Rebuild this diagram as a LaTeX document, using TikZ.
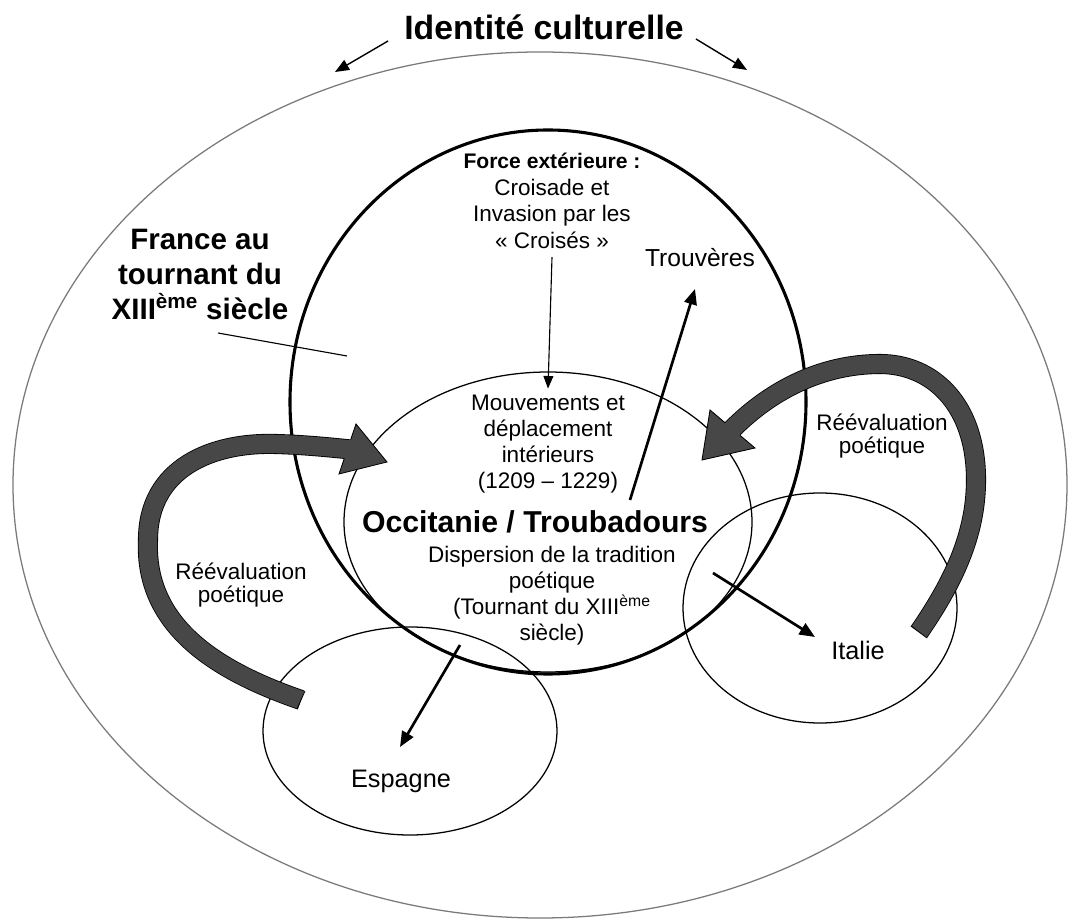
\documentclass[tikz,border=0pt]{standalone}
\usepackage{fontspec}
\setmainfont{Liberation Sans}
\usetikzlibrary{arrows.meta}
\definecolor{bandgray}{HTML}{474747}
\definecolor{ringgray}{HTML}{7A7A7A}
\tikzset{
  txt/.style={align=center, inner sep=0pt},
  arr/.style={-{Triangle[length=10pt,width=8pt]}, line width=1pt},
  thinarr/.style={-{Triangle[length=9pt,width=7pt]}, line width=0.8pt},
  thickarr/.style={-{Triangle[length=11pt,width=9pt]}, line width=1.9pt},
  band/.style={draw=black, line width=0.6pt, double=bandgray, double distance=0.46cm},
  bandhead/.style={draw=black, line width=0.6pt, line join=miter},
}

\begin{document}
\begin{tikzpicture}
\useasboundingbox (0,0) rectangle (26.7,23);
% the rings
\draw[ringgray, line width=0.9pt] (13.5,10.875) ellipse (13.175 and 10.825);
\draw[line width=2.2pt] (13.7,12.95) ellipse (6.45 and 6.8);
\draw[line width=0.9pt] (13.7,9.95) ellipse (5.1 and 3.75);
\draw[line width=0.9pt] (10.25,4.725) ellipse (3.675 and 2.6);
\draw[line width=0.9pt] (20.5,7.8) ellipse (3.425 and 2.875);

% left bent arrow
\draw[band] (7.525,5.5) .. controls (5.5,6.2) and (3.6,7.3) .. (3.7,9.5)
  .. controls (3.7,11.3) and (5.3,11.95) .. (6.9,11.9)
  .. controls (7.6,11.88) and (8.2,11.82) .. (8.79,11.76);
\draw[line width=0.6pt] (7.425,5.275) -- (7.625,5.725);
\fill[bandgray] (8.9,12.4) -- (9.675,11.45) -- (8.475,11.15) -- cycle;
\draw[bandhead] (8.768,12.012) -- (8.9,12.4) -- (9.675,11.45) -- (8.475,11.15) -- (8.607,11.538);

% right bent arrow
\draw[band] (22.975,7.2) .. controls (23.8,8.4) and (24.4,9.6) .. (24.4,11.0)
  .. controls (24.4,12.9) and (23.3,13.9) .. (22.0,13.9)
  .. controls (20.5,13.9) and (19.2,13.2) .. (18.24,12.205);
\draw[line width=0.6pt] (23.175,7.05) -- (22.775,7.35);
\fill[bandgray] (17.75,12.75) -- (17.55,11.5) -- (18.875,11.8) -- cycle;
\draw[bandhead] (18.121,12.436) -- (17.75,12.75) -- (17.55,11.5) -- (18.875,11.8) -- (18.504,12.114);

% texts
\node[txt, font=\bfseries\fontsize{24}{28}\selectfont] (title) at (13.6,22.325) {Identité culturelle};
\node[txt, font=\bfseries\fontsize{21}{24.9}\selectfont] (france) at (5.0,16.15) {France au\\tournant du\\XIII\textsuperscript{ème} siècle};
\node[txt, font=\fontsize{16}{19}\selectfont] (force) at (13.8,17.975) {{\bfseries\fontsize{15}{19}\selectfont Force extérieure :}\\Croisade et\\Invasion par les\\« Croisés »};
\node[txt, font=\fontsize{16}{18.5}\selectfont] (mouv) at (13.7,11.9) {Mouvements et\\déplacement\\intérieurs\\(1209 – 1229)};
\node[txt, font=\bfseries\fontsize{21.5}{25}\selectfont] (occ) at (13.375,9.95) {Occitanie / Troubadours};
\node[txt, font=\fontsize{16}{18.5}\selectfont] (disp) at (13.8,8.1) {Dispersion de la tradition\\poétique\\(Tournant du XIII\textsuperscript{ème}\\siècle)};
\node[txt, font=\fontsize{17.5}{21}\selectfont] (trouv) at (17.5,16.55) {Trouvères};
\node[txt, font=\fontsize{16}{16.4}\selectfont] (reevR) at (22.05,12.1) {Réévaluation\\poétique};
\node[txt, font=\fontsize{16}{16.4}\selectfont] (reevL) at (6.025,8.375) {Réévaluation\\poétique};
\node[txt, font=\fontsize{18}{21}\selectfont] (esp) at (10.025,3.475) {Espagne};
\node[txt, font=\fontsize{18}{21}\selectfont] (ita) at (21.45,6.75) {Italie};

% arrows
\coordinate (idL) at (8.375,21.2);
\coordinate (idR) at (18.675,21.25);
\draw[arr] (title.west) ++(-0.4,-0.35) -- (idL);
\draw[arr] (title.east) ++(0.3,-0.3) -- (idR);
\draw[thinarr] ([yshift=-0.2cm]force.south) -- ([yshift=0.15cm]mouv.north);
\coordinate (frA) at (5.45,14.675);
\coordinate (frB) at (8.675,14.1);
\draw[line width=0.8pt] (frA) -- (frB);
\coordinate (trvfoot) at (15.75,10.5);
\coordinate (trvtip) at (17.375,15.775);
\draw[thickarr] (trvfoot) -- (trvtip);
\coordinate (espfoot) at (11.5,6.875);
\coordinate (esptip) at (10.0,4.325);
\draw[thickarr] (espfoot) -- (esptip);
\coordinate (itafoot) at (17.825,8.675);
\coordinate (itatip) at (20.375,7.075);
\draw[thickarr] (itafoot) -- (itatip);
\end{tikzpicture}
\end{document}
